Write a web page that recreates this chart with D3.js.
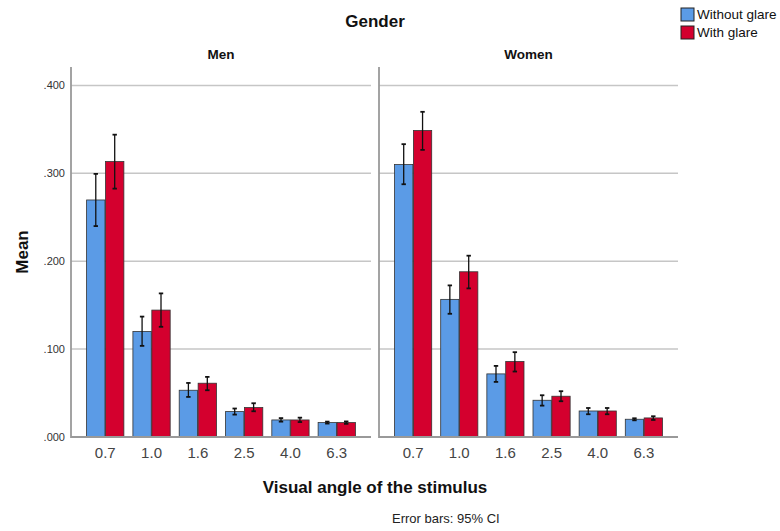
<!DOCTYPE html>
<html><head><meta charset="utf-8">
<script src="https://cdn.jsdelivr.net/npm/d3@7"></script>
<style>body{margin:0;background:#fff;} svg{display:block;font-family:Arial,"Liberation Sans",sans-serif;}</style>
</head><body>
<svg id="c" width="780" height="531"></svg>
<script>
const categories = ["0.7","1.0","1.6","2.5","4.0","6.3"];
const panels = ["Men","Women"];
const seriesNames = ["Without glare","With glare"];
const yTicks = [0, 0.1, 0.2, 0.3, 0.4];
// Men
const menWithout     = [0.2697,0.1201,0.0532,0.0289,0.0194,0.0164];
const menWithoutLo   = [0.2400,0.1037,0.0456,0.0255,0.0175,0.0153];
const menWithoutHi   = [0.2994,0.1370,0.0615,0.0324,0.0215,0.0175];
const menWith        = [0.3134,0.1444,0.0612,0.0335,0.0194,0.0164];
const menWithLo      = [0.2826,0.1254,0.0532,0.0293,0.0170,0.0150];
const menWithHi      = [0.3440,0.1634,0.0684,0.0384,0.0220,0.0177];
// Women
const womenWithout   = [0.3100,0.1566,0.0718,0.0418,0.0296,0.0202];
const womenWithoutLo = [0.2876,0.1402,0.0627,0.0357,0.0259,0.0190];
const womenWithoutHi = [0.3332,0.1725,0.0809,0.0475,0.0330,0.0213];
const womenWith      = [0.3487,0.1880,0.0859,0.0464,0.0296,0.0217];
const womenWithLo    = [0.3267,0.1691,0.0745,0.0407,0.0259,0.0194];
const womenWithHi    = [0.3700,0.2063,0.0965,0.0521,0.0330,0.0236];

const colors = ["#5b9be6","#d4002e"];
const data = [
  [ {v:menWithout,lo:menWithoutLo,hi:menWithoutHi}, {v:menWith,lo:menWithLo,hi:menWithHi} ],
  [ {v:womenWithout,lo:womenWithoutLo,hi:womenWithoutHi}, {v:womenWith,lo:womenWithLo,hi:womenWithHi} ]
];

const svg = d3.select("#c");
const y = d3.scaleLinear().domain([0,0.421]).range([437,67]);
const panelRanges = [[71,371],[379,678]];
const fmt = v => d3.format(".3f")(v).replace(/^0/,"");

panelRanges.forEach((rg,pi)=>{
  const g = svg.append("g");
  const x = d3.scaleBand().domain(categories).range(rg).paddingInner(0.195).paddingOuter(0.337);
  const xs = d3.scaleBand().domain(seriesNames).range([0,x.bandwidth()]).paddingInner(0.03);
  g.selectAll("line.grid").data(yTicks.filter(t=>t>0)).enter().append("line")
    .attr("x1",rg[0]).attr("x2",rg[1]).attr("y1",d=>y(d)).attr("y2",d=>y(d))
    .attr("stroke","#c6c6c6").attr("stroke-width",1.5);
  seriesNames.forEach((s,si)=>{
    const ser = data[pi][si];
    g.selectAll("rect.s"+si).data(categories).enter().append("rect")
      .attr("x",c=>x(c)+xs(s)).attr("width",xs.bandwidth())
      .attr("y",(c,i)=>y(ser.v[i])).attr("height",(c,i)=>y(0)-y(ser.v[i]))
      .attr("fill",colors[si]).attr("stroke","#333").attr("stroke-width",0.8);
    const cx = c => x(c)+xs(s)+xs.bandwidth()/2;
    g.selectAll("line.e"+si).data(categories).enter().append("line")
      .attr("x1",cx).attr("x2",cx).attr("y1",(c,i)=>y(ser.lo[i])).attr("y2",(c,i)=>y(ser.hi[i]))
      .attr("stroke","#111").attr("stroke-width",1.3);
    ["lo","hi"].forEach(k=>{
      g.selectAll("line.c"+si+k).data(categories).enter().append("line")
        .attr("x1",c=>cx(c)-2.2).attr("x2",c=>cx(c)+2.2)
        .attr("y1",(c,i)=>y(ser[k][i])).attr("y2",(c,i)=>y(ser[k][i]))
        .attr("stroke","#111").attr("stroke-width",1.8);
    });
  });
  g.append("line").attr("x1",rg[0]).attr("x2",rg[1]).attr("y1",y(0)).attr("y2",y(0))
    .attr("stroke","#999").attr("stroke-width",1.8);
  g.append("line").attr("x1",rg[0]).attr("x2",rg[0]).attr("y1",y(0)+0.9).attr("y2",y(0.421))
    .attr("stroke","#999").attr("stroke-width",1.8);
  const xa = g.append("g").attr("transform",`translate(0,${y(0)})`)
    .call(d3.axisBottom(x).tickSize(0).tickPadding(10));
  xa.select(".domain").remove();
  xa.selectAll("text").attr("font-size",15).attr("fill","#444").attr("font-family","Arial,'Liberation Sans',sans-serif");
  svg.append("text").attr("x",(rg[0]+rg[1])/2).attr("y",59).attr("text-anchor","middle")
    .attr("font-size",13.5).attr("font-weight","bold").attr("fill","#111").text(panels[pi]);
});

const ya = svg.append("g").attr("transform","translate(71,0)")
  .call(d3.axisLeft(y).tickValues(yTicks).tickFormat(fmt).tickSize(0).tickPadding(6));
ya.select(".domain").remove();
ya.selectAll("text").attr("font-size",11).attr("fill","#333").attr("font-family","Arial,'Liberation Sans',sans-serif");

svg.append("text").attr("x",375).attr("y",27).attr("text-anchor","middle")
  .attr("font-size",17).attr("font-weight","bold").attr("fill","#111").text("Gender");
svg.append("text").attr("transform","translate(28,252) rotate(-90)").attr("text-anchor","middle")
  .attr("font-size",17).attr("font-weight","bold").attr("fill","#111").text("Mean");
svg.append("text").attr("x",375).attr("y",493).attr("text-anchor","middle")
  .attr("font-size",17).attr("font-weight","bold").attr("fill","#111").text("Visual angle of the stimulus");
svg.append("text").attr("x",392).attr("y",523)
  .attr("font-size",13).attr("fill","#222").text("Error bars: 95% CI");

const lg = svg.append("g");
seriesNames.forEach((s,i)=>{
  lg.append("rect").attr("x",681).attr("y",8+i*18).attr("width",13).attr("height",13)
    .attr("fill",colors[i]).attr("stroke","#222").attr("stroke-width",1);
  lg.append("text").attr("x",697).attr("y",19+i*18).attr("font-size",13.5).attr("fill","#111").text(s);
});
</script>
</body></html>
